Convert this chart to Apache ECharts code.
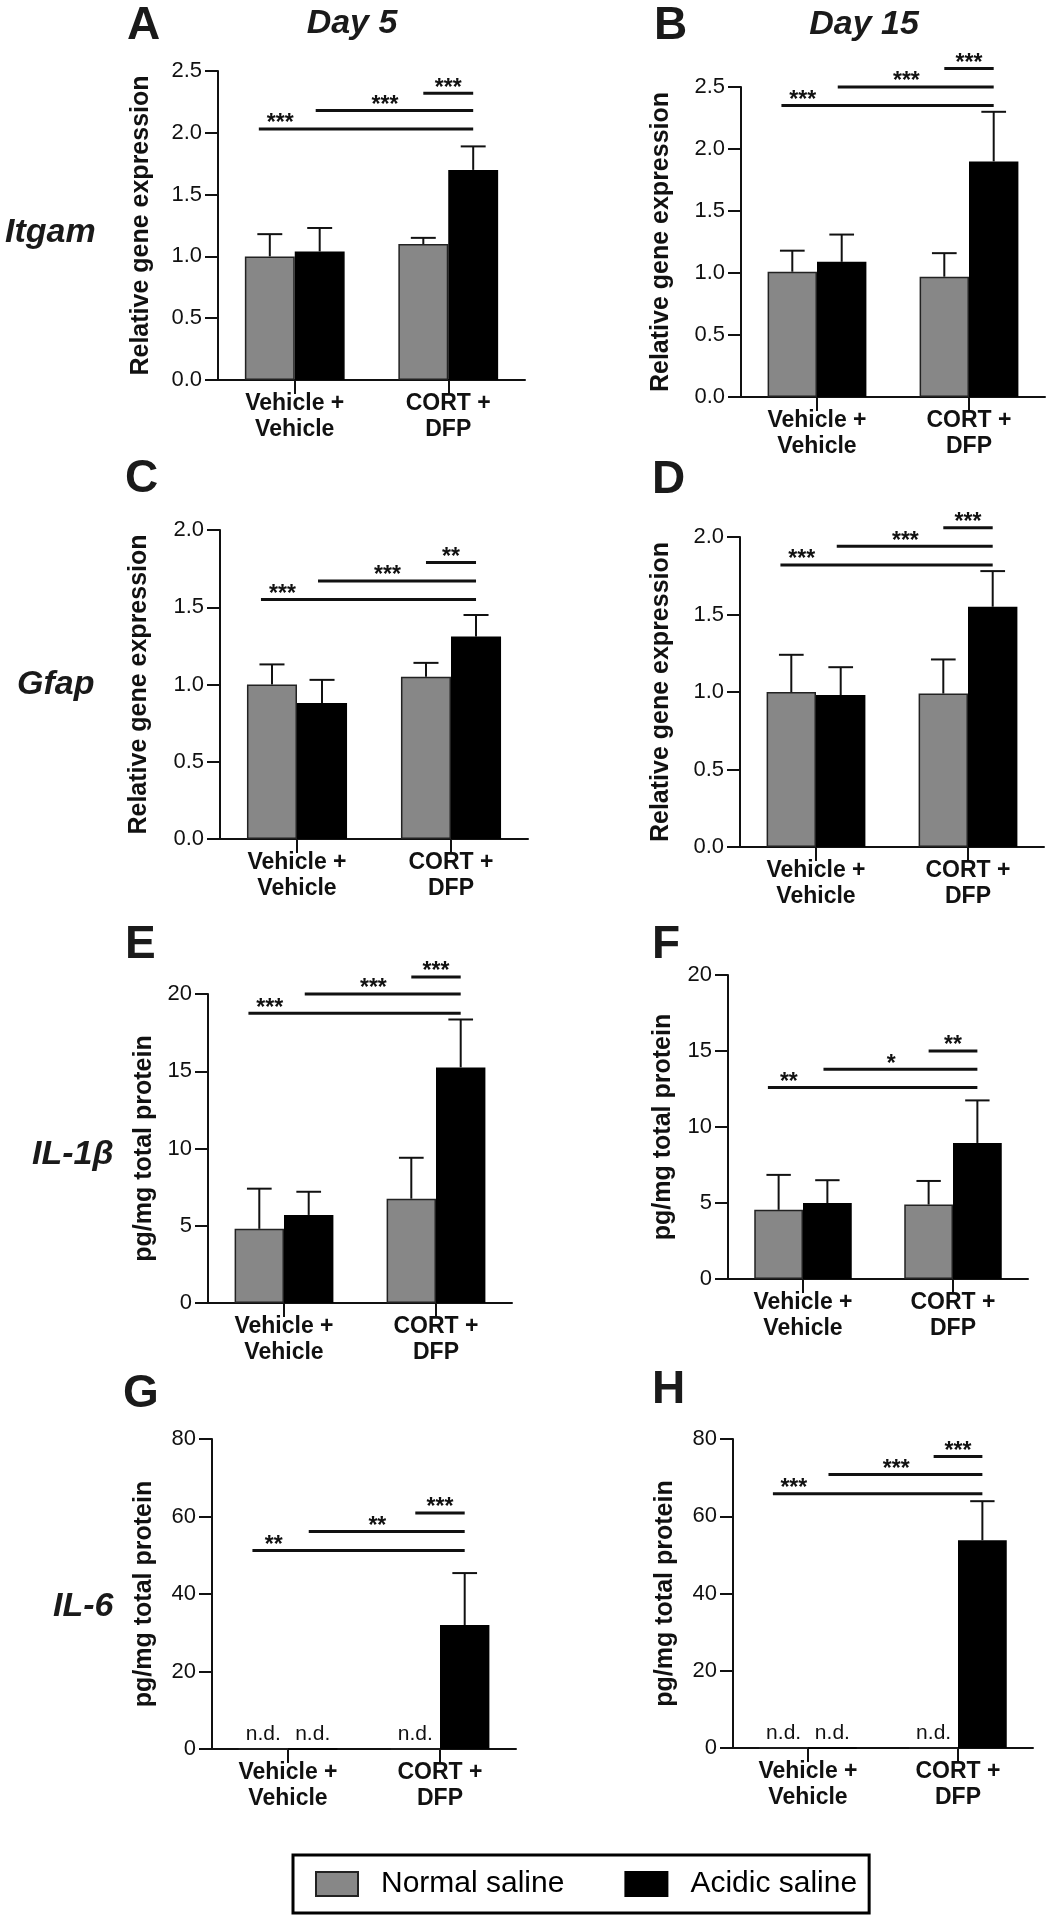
<!DOCTYPE html>
<html><head><meta charset="utf-8">
<script src="https://cdn.jsdelivr.net/npm/echarts@6/dist/echarts.min.js"></script>
<style>html,body{margin:0;padding:0;background:#fff}#chart{width:1058px;height:1920px}</style>
</head><body><div id="chart"></div>
<script>
// ---------- DATA ----------
const categories = ['Vehicle +\nVehicle', 'CORT +\nDFP'];
const seriesNames = ['Normal saline', 'Acidic saline'];
const panelLetters = ['A', 'B', 'C', 'D', 'E', 'F', 'G', 'H'];
const dayTitles = ['Day 5', 'Day 15'];
const geneLabels = ['Itgam', 'Gfap', 'IL-1β', 'IL-6'];
const yNameGene = 'Relative gene expression';
const yNameProtein = 'pg/mg total protein';

// tick labels
const ticksItgam = [0, 0.5, 1.0, 1.5, 2.0, 2.5];
const ticksGfap = [0, 0.5, 1.0, 1.5, 2.0];
const ticksIL1b = [0, 5, 10, 15, 20];
const ticksIL6 = [0, 20, 40, 60, 80];

// A: Itgam, Day 5
const A_normal = [1.00, 1.10], A_normalErr = [0.18, 0.05];
const A_acidic = [1.04, 1.70], A_acidicErr = [0.19, 0.19];
const A_sigY = [2.03, 2.18, 2.32], A_sigText = ['***', '***', '***'];
// B: Itgam, Day 15
const B_normal = [1.01, 0.97], B_normalErr = [0.17, 0.19];
const B_acidic = [1.09, 1.90], B_acidicErr = [0.22, 0.40];
const B_sigY = [2.35, 2.50, 2.65], B_sigText = ['***', '***', '***'];
// C: Gfap, Day 5
const C_normal = [1.00, 1.05], C_normalErr = [0.13, 0.09];
const C_acidic = [0.88, 1.31], C_acidicErr = [0.15, 0.14];
const C_sigY = [1.55, 1.67, 1.79], C_sigText = ['***', '***', '**'];
// D: Gfap, Day 15
const D_normal = [1.00, 0.99], D_normalErr = [0.24, 0.22];
const D_acidic = [0.98, 1.55], D_acidicErr = [0.18, 0.23];
const D_sigY = [1.82, 1.94, 2.06], D_sigText = ['***', '***', '***'];
// E: IL-1b, Day 5
const E_normal = [4.80, 6.75], E_normalErr = [2.60, 2.65];
const E_acidic = [5.70, 15.25], E_acidicErr = [1.50, 3.10];
const E_sigY = [18.75, 20.0, 21.1], E_sigText = ['***', '***', '***'];
// F: IL-1b, Day 15
const F_normal = [4.55, 4.90], F_normalErr = [2.30, 1.55];
const F_acidic = [5.00, 8.95], F_acidicErr = [1.50, 2.80];
const F_sigY = [12.6, 13.8, 15.0], F_sigText = ['**', '*', '**'];
// G: IL-6, Day 5 (null = n.d.)
const G_normal = [null, null], G_normalErr = [null, null];
const G_acidic = [null, 32.0], G_acidicErr = [null, 13.4];
const G_sigY = [51.2, 56.1, 60.9], G_sigText = ['**', '**', '***'];
// H: IL-6, Day 15
const H_normal = [null, null], H_normalErr = [null, null];
const H_acidic = [null, 53.8], H_acidicErr = [null, 10.1];
const H_sigY = [65.8, 70.8, 75.5], H_sigText = ['***', '***', '***'];

// comparisons: from bar slot -> to bar slot (0 gray1, 1 black1, 2 gray2, 3 black2), star position along line
const sigFrom = [-0.22, 0.92, 2];
const sigTo = [3, 3, 3];
const sigStarPos = [0.1, 0.44, 0.5];

// ---------- LAYOUT / STYLE ----------
const FONT = '"Liberation Sans", Arial, Helvetica, sans-serif';
const GRAY = '#878787', INK = '#111';
const BAR_FRAC = 0.325; // bar width as fraction of band (barCategoryGap 35%, barGap 0)

const panels = [
  { n: A_normal, ne: A_normalErr, a: A_acidic, ae: A_acidicErr, sy: A_sigY, st: A_sigText, ticks: ticksItgam, name: yNameGene, dec: 1 },
  { n: B_normal, ne: B_normalErr, a: B_acidic, ae: B_acidicErr, sy: B_sigY, st: B_sigText, ticks: ticksItgam, name: yNameGene, dec: 1 },
  { n: C_normal, ne: C_normalErr, a: C_acidic, ae: C_acidicErr, sy: C_sigY, st: C_sigText, ticks: ticksGfap, name: yNameGene, dec: 1 },
  { n: D_normal, ne: D_normalErr, a: D_acidic, ae: D_acidicErr, sy: D_sigY, st: D_sigText, ticks: ticksGfap, name: yNameGene, dec: 1 },
  { n: E_normal, ne: E_normalErr, a: E_acidic, ae: E_acidicErr, sy: E_sigY, st: E_sigText, ticks: ticksIL1b, name: yNameProtein, dec: 0 },
  { n: F_normal, ne: F_normalErr, a: F_acidic, ae: F_acidicErr, sy: F_sigY, st: F_sigText, ticks: ticksIL1b, name: yNameProtein, dec: 0 },
  { n: G_normal, ne: G_normalErr, a: G_acidic, ae: G_acidicErr, sy: G_sigY, st: G_sigText, ticks: ticksIL6, name: yNameProtein, dec: 0 },
  { n: H_normal, ne: H_normalErr, a: H_acidic, ae: H_acidicErr, sy: H_sigY, st: H_sigText, ticks: ticksIL6, name: yNameProtein, dec: 0 }
];

const layout = [
  { left: 218, top: 71, width: 307, height: 309, nameGap: 64 },
  { left: 741, top: 87, width: 304, height: 310, nameGap: 67 },
  { left: 220, top: 530, width: 308, height: 309, nameGap: 68 },
  { left: 740, top: 537, width: 304, height: 310, nameGap: 66 },
  { left: 208, top: 994, width: 304, height: 309, nameGap: 51 },
  { left: 728, top: 975, width: 300, height: 304, nameGap: 52 },
  { left: 212, top: 1439, width: 304, height: 310, nameGap: 55 },
  { left: 733, top: 1439, width: 300, height: 309, nameGap: 55 }
];
const letterPos = [[127, 26], [654, 26], [125, 479], [652, 480], [125, 945], [652, 945], [123, 1394], [652, 1390]];
const dayPos = [[352, 24], [864, 25]];
const genePos = [[5, 233], [17, 685], [32, 1155], [53, 1607]];

// ---------- BUILD ----------
const grids = [], xAxes = [], yAxes = [], series = [];

function barData(vals) {
  return vals.map(v => v == null
    ? { value: 0, label: { show: true, formatter: 'n.d.' } }
    : { value: v, label: { show: false } });
}

panels.forEach((p, i) => {
  const L = layout[i];
  grids.push({ left: L.left, top: L.top, width: L.width, height: L.height, containLabel: false, outerBoundsMode: 'none' });
  xAxes.push({
    type: 'category', gridIndex: i, data: categories,
    axisLine: { show: true, lineStyle: { color: INK, width: 2 } },
    axisTick: { show: true, alignWithLabel: true, length: 14, lineStyle: { color: INK, width: 2 } },
    axisLabel: { interval: 0, fontSize: 23, fontWeight: 'bold', color: INK, lineHeight: 26, margin: 11, fontFamily: FONT },
    splitLine: { show: false }
  });
  const t = p.ticks;
  yAxes.push({
    type: 'value', gridIndex: i, min: t[0], max: t[t.length - 1], interval: t[1] - t[0],
    name: p.name, nameLocation: 'middle', nameGap: L.nameGap,
    nameTextStyle: { fontSize: 25, fontWeight: 'bold', color: INK, fontFamily: FONT },
    axisLine: { show: true, lineStyle: { color: INK, width: 2 } },
    axisTick: { show: true, length: 13, lineStyle: { color: INK, width: 2 } },
    axisLabel: { fontSize: 22, color: INK, margin: 16, fontFamily: FONT, formatter: v => v.toFixed(p.dec) },
    splitLine: { show: false }
  });
  const labelStyle = { position: 'top', distance: 4, fontSize: 21, color: INK, fontFamily: FONT };
  series.push({
    name: seriesNames[0], type: 'bar', xAxisIndex: i, yAxisIndex: i,
    barCategoryGap: '35%', barGap: '0%', data: barData(p.n),
    itemStyle: { color: GRAY, borderColor: '#222', borderWidth: 1.5 },
    label: labelStyle, emphasis: { disabled: true }
  });
  series.push({
    name: seriesNames[1], type: 'bar', xAxisIndex: i, yAxisIndex: i,
    barCategoryGap: '35%', barGap: '0%', data: barData(p.a),
    itemStyle: { color: '#000', borderColor: '#000', borderWidth: 1.5 },
    label: labelStyle, emphasis: { disabled: true }
  });
  // error bars (upper SEM)
  const errData = [];
  [[p.n, p.ne, 0], [p.a, p.ae, 1]].forEach(([m, e, side]) => {
    m.forEach((v, c) => { if (v != null && e[c] != null) errData.push([c, v, v + e[c], side]); });
  });
  series.push({
    type: 'custom', xAxisIndex: i, yAxisIndex: i, silent: true, z: 5, clip: false,
    data: errData,
    renderItem: (params, api) => {
      const c = api.value(0);
      const base = api.coord([c, api.value(1)]);
      const top = api.coord([c, api.value(2)]);
      const bw = api.size([1, 0])[0] * BAR_FRAC;
      const x = base[0] + (api.value(3) ? bw / 2 : -bw / 2);
      return { type: 'group', children: [
        { type: 'line', shape: { x1: x, y1: base[1], x2: x, y2: top[1] }, style: { stroke: INK, lineWidth: 2 } },
        { type: 'line', shape: { x1: x - bw / 4, y1: top[1], x2: x + bw / 4, y2: top[1] }, style: { stroke: INK, lineWidth: 2 } }
      ] };
    }
  });
  // significance brackets
  const sigData = p.sy.map((y, k) => [sigFrom[k], sigTo[k], y, sigStarPos[k], k]);
  series.push({
    type: 'custom', xAxisIndex: i, yAxisIndex: i, silent: true, z: 6, clip: false,
    data: sigData,
    renderItem: (params, api) => {
      const band = api.size([1, 0])[0], bw = band * BAR_FRAC;
      const slotX = s => {
        const g = s < 1.5 ? 0 : 1;
        const cx = api.coord([g, 0])[0];
        return cx + (s - 2 * g - 0.5) * bw;
      };
      const x1 = slotX(api.value(0)), x2 = slotX(api.value(1));
      const y = api.coord([0, api.value(2)])[1];
      const sx = x1 + api.value(3) * (x2 - x1);
      return { type: 'group', children: [
        { type: 'line', shape: { x1: x1, y1: y, x2: x2, y2: y }, style: { stroke: INK, lineWidth: 3 } },
        { type: 'text', x: sx, y: y - 5, style: { text: p.st[api.value(4)], fontSize: 23, fontWeight: 'bold', fontFamily: FONT, fill: INK, textAlign: 'center', textVerticalAlign: 'middle', align: 'center', verticalAlign: 'middle' } }
      ] };
    }
  });
});

const graphics = [];
panelLetters.forEach((t, i) => graphics.push({ type: 'text', x: letterPos[i][0], y: letterPos[i][1], silent: true,
  style: { text: t, font: 'bold 46px ' + FONT, fill: '#1a1a1a', textAlign: 'left', textVerticalAlign: 'middle', align: 'left', verticalAlign: 'middle' } }));
dayTitles.forEach((t, i) => graphics.push({ type: 'text', x: dayPos[i][0], y: dayPos[i][1], silent: true,
  style: { text: t, font: 'italic bold 34px ' + FONT, fill: '#1a1a1a', textAlign: 'center', textVerticalAlign: 'middle', align: 'center', verticalAlign: 'middle' } }));
geneLabels.forEach((t, i) => graphics.push({ type: 'text', x: genePos[i][0], y: genePos[i][1], silent: true,
  style: { text: t, font: 'italic bold 34px ' + FONT, fill: '#1a1a1a', textAlign: 'left', textVerticalAlign: 'middle', align: 'left', verticalAlign: 'middle' } }));

const chart = echarts.init(document.getElementById('chart'), null, { renderer: 'canvas' });
chart.setOption({
  animation: false,
  backgroundColor: '#fff',
  textStyle: { fontFamily: FONT },
  grid: grids, xAxis: xAxes, yAxis: yAxes, series: series, graphic: graphics,
  legend: {
    data: seriesNames, left: 293, top: 1855, orient: 'horizontal', selectedMode: false,
    padding: [14, 12, 14, 22], borderColor: '#000', borderWidth: 3,
    itemWidth: 42, itemHeight: 24, itemGap: 60, icon: 'rect',
    textStyle: { fontSize: 30, color: '#000', fontFamily: FONT, padding: [0, 0, 0, 18] }
  }
});
</script></body></html>
